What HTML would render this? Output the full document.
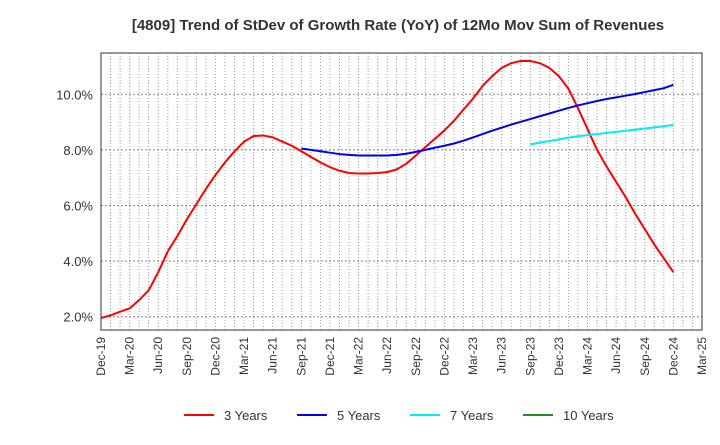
<!DOCTYPE html>
<html><head><meta charset="utf-8"><style>body{margin:0;background:#fff}svg{font-family:"Liberation Sans",sans-serif}</style></head>
<body>
<svg id="c" width="720" height="440">
<text x="398" y="30" text-anchor="middle" font-size="15" font-weight="bold" fill="#333">[4809]  Trend of StDev of Growth Rate (YoY) of 12Mo Mov Sum of Revenues</text>
</svg>
<script>
const xLabels=["Dec-19","Mar-20","Jun-20","Sep-20","Dec-20","Mar-21","Jun-21","Sep-21","Dec-21","Mar-22","Jun-22","Sep-22","Dec-22","Mar-23","Jun-23","Sep-23","Dec-23","Mar-24","Jun-24","Sep-24","Dec-24","Mar-25"];
const yTicks=[2,4,6,8,10];
const s3=[1.95,2.05,2.18,2.3,2.6,2.95,3.6,4.35,4.9,5.5,6.05,6.6,7.1,7.55,7.95,8.3,8.5,8.52,8.45,8.3,8.15,7.95,7.75,7.55,7.38,7.25,7.17,7.15,7.15,7.17,7.2,7.3,7.5,7.8,8.1,8.4,8.7,9.05,9.45,9.85,10.3,10.65,10.95,11.12,11.2,11.2,11.12,10.95,10.65,10.2,9.5,8.75,8.0,7.4,6.85,6.3,5.7,5.15,4.6,4.1,3.6];
const s5=[8.05,8.0,7.95,7.9,7.85,7.82,7.8,7.8,7.8,7.8,7.82,7.86,7.93,8.0,8.08,8.15,8.23,8.33,8.45,8.57,8.69,8.8,8.91,9.01,9.11,9.21,9.31,9.41,9.51,9.6,9.68,9.76,9.83,9.89,9.95,10.01,10.08,10.15,10.22,10.34];
const s7=[8.2,8.26,8.32,8.38,8.44,8.49,8.53,8.57,8.61,8.65,8.69,8.73,8.77,8.81,8.85,8.9];
const s5start=21, s7start=45;
const L=101,R=702,T=53,B=330;
const xm=i=>L+(R-L)*i/63;
const ym=v=>316.7-(v-2)*27.8;
const svg=document.getElementById('c');
const NS="http://www.w3.org/2000/svg";
function mk(t,a,p){const e=document.createElementNS(NS,t);for(const k in a)e.setAttribute(k,a[k]);(p||svg).appendChild(e);return e;}
for(let m=1;m<63;m++){const g=mk('line',{x1:xm(m),x2:xm(m),y1:T,y2:B,stroke:'#999','stroke-dasharray':'1,2','stroke-width':1});

}
for(let v=1.6;v<11.5;v+=0.4){if(Math.abs(v/2-Math.round(v/2))<0.01)continue;}
yTicks.forEach(v=>{const g=mk('line',{x1:L,x2:R,y1:ym(v),y2:ym(v),stroke:'#888','stroke-dasharray':'2,2'});


const t=mk('text',{x:L-8,y:ym(v)+5,'text-anchor':'end','font-size':13,fill:'#333'});t.textContent=v.toFixed(1)+'%';

});
const fr=mk('rect',{x:L,y:T,width:R-L,height:B-T,fill:'none',stroke:'#333'});


xLabels.forEach((s,i)=>{const x=xm(i*3);const t=mk('text',{x:0,y:0,'text-anchor':'end','font-size':12,fill:'#333',transform:`translate(${x+4},${B+7}) rotate(-90)`});t.textContent=s;

});
function line(data,start,color,name){const p=mk('polyline',{points:data.map((v,i)=>xm(start+i)+','+ym(v)).join(' '),fill:'none',stroke:color,'stroke-width':2,'stroke-linejoin':'round'});

}
line(s3,0,'#ff0000','series-3-years');
line(s5,s5start,'#0000ee','series-5-years');
line(s7,s7start,'#00eeee','series-7-years');
[['3 Years','#ff0000',184],['5 Years','#0000ee',297],['7 Years','#00eeee',410],['10 Years','#228b22',523]].forEach(([n,c,x])=>{
const g=mk('g',{});


mk('line',{x1:x,x2:x+30,y1:415,y2:415,stroke:c,'stroke-width':2},g);
const t=mk('text',{x:x+40,y:420,'font-size':13,fill:'#333'},g);t.textContent=n;});
</script>
</body></html>
